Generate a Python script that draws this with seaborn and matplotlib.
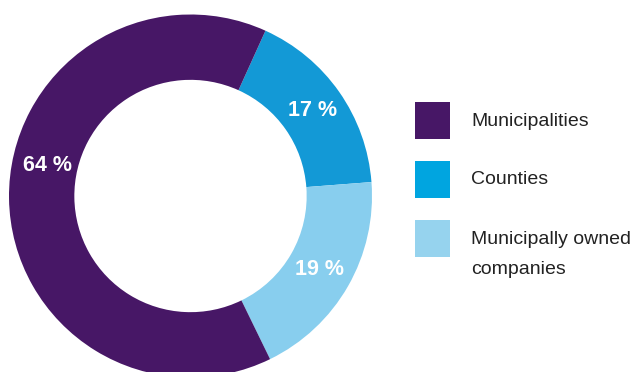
import matplotlib.pyplot as plt
import seaborn as sns
from matplotlib.patches import Rectangle

sns.set_theme(style="white")
plt.rcParams["font.family"] = ["Liberation Sans", "DejaVu Sans"]

# wedge order runs clockwise from the top-right boundary
categories = ["Counties", "Municipally owned companies", "Municipalities"]
shares = [17, 19, 64]
wedge_colors = ["#1399d6", "#88ceee", "#471766"]

legend_labels = ["Municipalities", "Counties", "Municipally owned\ncompanies"]
legend_colors = ["#471766", "#00a5e0", "#96d3ee"]

W, H = 636, 372
fig = plt.figure(figsize=(W / 100, H / 100), dpi=100)

# donut: centre (190.5, 196) px, outer radius 181.5 px
cx, cy, r = 190.5, 196, 181.5
ax = fig.add_axes([(cx - r) / W, (H - cy - r) / H, 2 * r / W, 2 * r / H])
wedges, texts, autotexts = ax.pie(
    shares,
    colors=wedge_colors,
    startangle=65.6,
    counterclock=False,
    radius=1,
    wedgeprops=dict(width=0.36, linewidth=0),
    autopct=lambda p: f"{p:.0f} %",
    pctdistance=0.82,
    textprops=dict(color="white", fontsize=15.5, fontweight="bold"),
)
# the big label sits higher up on the left side
autotexts[2].set_position((-0.79, 0.17))
ax.set_xlim(-1, 1)
ax.set_ylim(-1, 1)
ax.set_aspect("equal")
ax.axis("off")

# legend drawn by hand
sq_x, sq_w, sq_h = 415, 35, 37
row_y = [120.5, 179.5, 238.5]
for label, color, y in zip(legend_labels, legend_colors, row_y):
    fig.add_artist(Rectangle(((sq_x) / W, (H - y - sq_h / 2) / H), sq_w / W, sq_h / H,
                             transform=fig.transFigure, color=color, lw=0))
    for i, line in enumerate(label.split("\n")):
        fig.text(471 / W, (H - y + 1.5 - i * 30) / H, line, fontsize=14, color="#222222",
                 va="center_baseline", ha="left")

fig.savefig("out.png", dpi=100)
plt.close(fig)
